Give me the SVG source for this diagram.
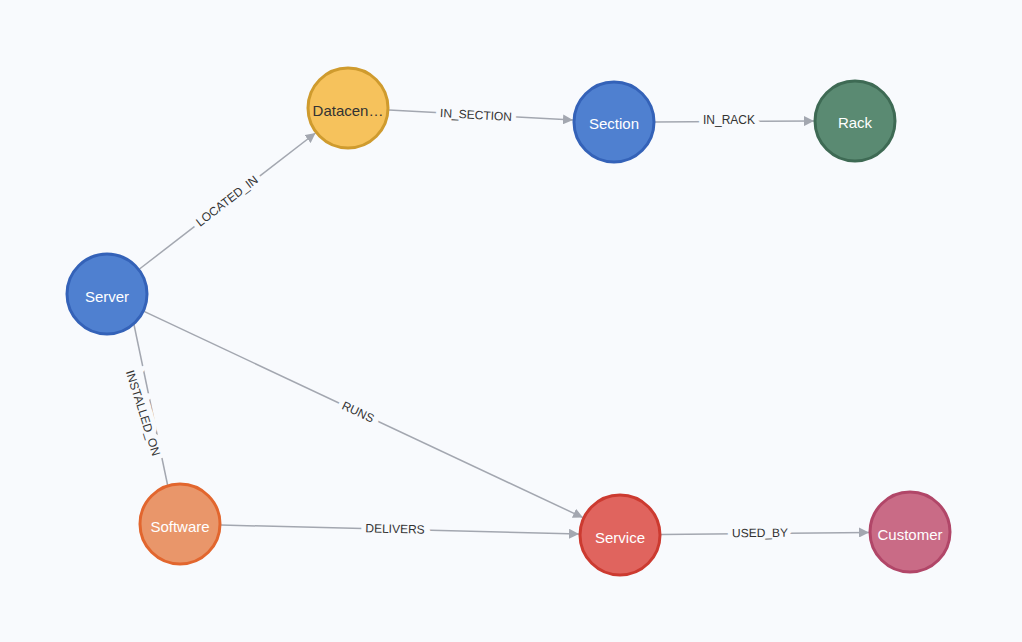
<svg xmlns="http://www.w3.org/2000/svg" width="1022" height="642" viewBox="0 0 1022 642">
<defs>
<marker id="ar" viewBox="0 0 10 10" refX="10" refY="5" markerWidth="10" markerHeight="10" markerUnits="userSpaceOnUse" orient="auto"><path d="M0,0 L10,5 L0,10 z" fill="#a3a7b0"/></marker>
</defs>
<style>
.e{stroke:#a3a7b0;stroke-width:1.5;fill:none;marker-end:url(#ar)}
.el{font-family:"Liberation Sans",Arial,sans-serif;font-size:12px;fill:#333;text-anchor:middle;dominant-baseline:central;stroke:#f8fafd;stroke-width:10px;paint-order:stroke}
.n{stroke-width:3}
.nl{font-family:"Liberation Sans",Arial,sans-serif;font-size:15px;fill:#fff;text-anchor:middle;dominant-baseline:central}
</style>
<rect width="1022" height="642" fill="#f8fafd"/>
<g id="connectors">
<line class="e" x1="139.5" y1="269" x2="315.5" y2="133"/>
<text class="el" transform="translate(227,201) rotate(-37.7)">LOCATED_IN</text>
<line class="e" x1="389" y1="110" x2="573" y2="120"/>
<text class="el" transform="translate(476,115) rotate(3)">IN_SECTION</text>
<line class="e" x1="655" y1="122" x2="814" y2="121"/>
<text class="el" transform="translate(729,120)">IN_RACK</text>
<line class="e" x1="144" y1="311.4" x2="583" y2="517.6"/>
<text class="el" transform="translate(358,412) rotate(25.2)">RUNS</text>
<line class="e" x1="167.6" y1="485" x2="119.4" y2="255"/>
<text class="el" transform="translate(143,413) rotate(72.4)">INSTALLED_ON</text>
<line class="e" x1="221" y1="525" x2="579" y2="534"/>
<text class="el" transform="translate(395,529) rotate(1.4)">DELIVERS</text>
<line class="e" x1="661" y1="534.6" x2="869" y2="532.4"/>
<text class="el" transform="translate(760,533) rotate(-0.5)">USED_BY</text>
</g>
<g id="datacenter"><circle class="n" cx="348" cy="108" r="40" fill="#f6c25c" stroke="#cf9b2e"/><text class="nl" x="348" y="110" fill="#333" style="fill:#333">Datacen…</text></g>
<g id="section"><circle class="n" cx="614" cy="122" r="40" fill="#4f80d0" stroke="#3462b8"/><text class="nl" x="614" y="123">Section</text></g>
<g id="rack"><circle class="n" cx="855" cy="121" r="40" fill="#5a8a72" stroke="#3e6a54"/><text class="nl" x="855" y="122">Rack</text></g>
<g id="server"><circle class="n" cx="107" cy="294" r="40" fill="#4f80d0" stroke="#3462b8"/><text class="nl" x="107" y="296">Server</text></g>
<g id="software"><circle class="n" cx="180" cy="524" r="40" fill="#e9966a" stroke="#e2662e"/><text class="nl" x="180" y="526">Software</text></g>
<g id="service"><circle class="n" cx="620" cy="535" r="40" fill="#e0645e" stroke="#cc3a30"/><text class="nl" x="620" y="537">Service</text></g>
<g id="customer"><circle class="n" cx="910" cy="532" r="40" fill="#c96b86" stroke="#b14668"/><text class="nl" x="910" y="534">Customer</text></g>
</svg>
